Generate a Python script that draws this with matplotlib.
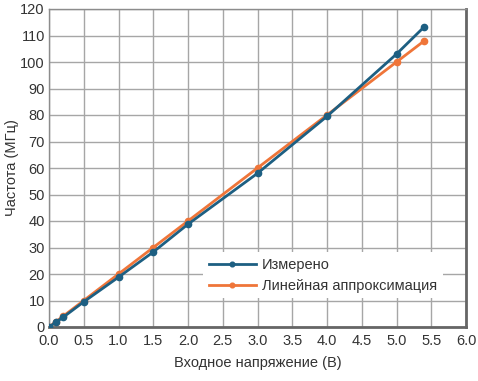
import matplotlib
matplotlib.use("Agg")
import matplotlib.pyplot as plt

plt.rcParams['font.family'] = ['Liberation Sans', 'DejaVu Sans']

voltage = [0.0, 0.1, 0.2, 0.5, 1.0, 1.5, 2.0, 3.0, 4.0, 5.0, 5.4]
measured = [0.0, 1.8, 3.6, 9.5, 18.8, 28.3, 38.8, 58.0, 79.5, 103.0, 113.3]
linear_fit = [0.0, 2.0, 4.0, 10.0, 20.0, 30.0, 40.0, 60.0, 80.0, 100.0, 108.0]

blue = '#1d5f82'
orange = '#ef7539'

fig = plt.figure(figsize=(4.78, 3.81), dpi=100)
ax = fig.add_axes([49 / 478, 1 - 327 / 381, 417 / 478, 318 / 381])

ax.plot(voltage, measured, color=blue, lw=2, marker='o', ms=4.5, label='Измерено', zorder=3)
ax.plot(voltage, linear_fit, color=orange, lw=2, marker='o', ms=4.5, label='Линейная аппроксимация', zorder=2)

ax.set_xlim(0, 6)
ax.set_ylim(0, 120)
ax.set_xticks([i * 0.5 for i in range(13)])
ax.set_yticks(range(0, 121, 10))
ax.set_xticklabels([f'{i * 0.5:.1f}' for i in range(13)])
ax.grid(True, color='#a6a6a6', lw=1)
ax.set_axisbelow(True)
ax.tick_params(length=0, labelsize=10.5, colors='#333333')
ax.tick_params(axis='y', pad=3)
ax.tick_params(axis='x', pad=5)

for side in ['top', 'left']:
    ax.spines[side].set_color('#8c8c8c')
    ax.spines[side].set_linewidth(1)
for side in ['right', 'bottom']:
    ax.spines[side].set_color('#666666')
    ax.spines[side].set_linewidth(2)

ax.set_xlabel('Входное напряжение (В)', fontsize=10.5, color='#333333', labelpad=6)
ax.set_ylabel('Частота (МГц)', fontsize=10.5, color='#333333')
ax.yaxis.set_label_coords(-0.072, 0.5)

leg = ax.legend(loc='upper left', bbox_to_anchor=(0.37, 0.235), frameon=True,
                fontsize=10.5, handlelength=3.2, handletextpad=0.4,
                borderaxespad=0, borderpad=0.4, labelspacing=0.45, markerscale=0.75)
leg.get_frame().set_edgecolor('none')
leg.get_frame().set_facecolor('white')
leg.get_frame().set_alpha(1)
leg.get_frame().set_boxstyle('square', pad=0)
for t in leg.get_texts():
    t.set_color('#333333')

fig.savefig('out.png', dpi=100)
